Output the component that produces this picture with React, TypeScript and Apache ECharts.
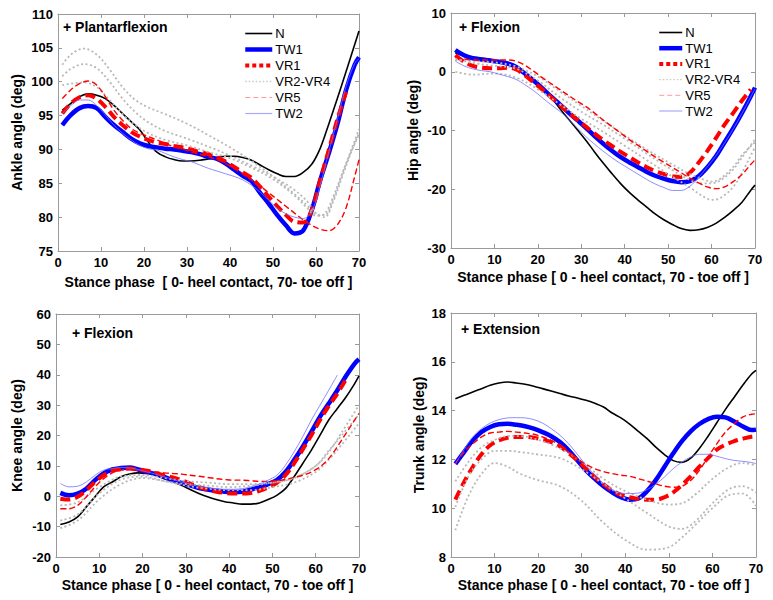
import React, { useEffect, useRef } from "react";
import * as echarts from "echarts";

// ---------- data ----------
const X_ODD = [1, 3, 5, 7, 9, 11, 13, 15, 17, 19, 21, 23, 25, 27, 29, 31, 33, 35, 37, 39, 41, 43, 45, 47, 49, 51, 53, 55, 57, 59, 61, 63, 65, 67, 69, 70];
const X_ANKLE_GRAY = [1, 3, 6, 9, 12, 15, 18, 21, 25, 30, 35, 40, 45, 50, 55, 58, 60, 62, 64, 66, 68, 70];
const X_HIP_GRAY = [1, 5, 10, 15, 20, 25, 30, 35, 40, 45, 50, 55, 58, 60, 62, 65, 67, 70];
const X_KNEE_GRAY = [1, 5, 10, 15, 20, 25, 30, 35, 40, 45, 50, 55, 60, 63, 66, 70];
const X_TRUNK_GRAY = [1, 4, 7, 10, 13, 16, 20, 25, 30, 35, 40, 45, 50, 53, 56, 60, 64, 67, 70];

const X_TICKS = [0, 10, 20, 30, 40, 50, 60, 70];
const LEGEND_NAMES = ["N", "TW1", "VR1", "VR2-VR4", "VR5", "TW2"];

// Ankle
const ANKLE_N = [95.8, 96.8, 97.8, 98.2, 98.0, 97.5, 96.5, 95.3, 94.1, 92.9, 91.1, 89.6, 88.9, 88.5, 88.3, 88.3, 88.4, 88.6, 88.8, 89.0, 89.0, 88.8, 88.4, 87.7, 87.0, 86.4, 86.0, 86.0, 86.6, 87.8, 90.2, 93.8, 97.6, 101.5, 105.5, 107.5];
const ANKLE_TW1 = [93.6, 95.1, 96.1, 96.4, 96.1, 94.8, 93.6, 92.6, 91.6, 90.9, 90.5, 90.3, 90.1, 90.0, 89.8, 89.6, 89.3, 88.9, 88.6, 87.9, 87.0, 86.1, 85.3, 83.6, 82.0, 80.3, 78.8, 77.6, 78.0, 81.0, 85.5, 89.5, 93.8, 98.8, 102.5, 103.6];
const ANKLE_VR1 = [95.3, 96.8, 97.7, 98.0, 97.5, 96.3, 94.8, 93.6, 92.6, 91.9, 91.4, 91.0, 90.8, 90.5, 90.3, 90.0, 89.6, 89.3, 88.8, 88.2, 87.4, 86.6, 85.8, 84.5, 83.0, 81.6, 80.3, 79.3, 79.2, 81.0, 85.5, 90.0, 94.5, 98.5, null, null];
const ANKLE_VR5 = [97.5, 98.8, 99.7, 100.1, 99.5, 97.8, 95.8, 94.3, 93.1, 92.4, 91.9, 91.4, 90.9, 90.4, 90.1, 89.6, 89.3, 88.9, 88.5, 87.9, 87.2, 86.4, 85.5, 84.6, 83.6, 82.6, 81.6, 80.6, 79.6, 78.8, 78.2, 78.0, 78.9, 81.4, 86.0, 88.5];
const ANKLE_TW2 = [95.3, 96.5, 97.3, 97.3, 96.5, 95.1, 93.6, 92.4, 91.4, 90.6, 90.1, 89.9, 89.4, 88.9, 88.5, 88.2, 87.7, 87.2, 86.8, 86.4, 86.0, 85.5, 84.7, 83.7, 82.5, 81.3, 80.5, 80.0, 79.8, 80.8, 84.8, 89.7, 94.5, 99.3, 102.7, 103.4];
const ANKLE_G1 = [102.5, 104.0, 104.9, 104.0, 101.8, 99.2, 97.3, 96.2, 95.2, 93.8, 92.1, 90.3, 88.3, 86.0, 83.4, 81.7, 80.4, 80.3, 82.6, 86.2, 89.6, 93.0];
const ANKLE_G2 = [100.8, 101.9, 102.6, 102.0, 100.0, 97.5, 95.5, 94.0, 92.7, 91.6, 90.4, 89.1, 87.6, 86.0, 84.0, 82.3, 80.6, 80.0, 82.3, 85.8, 89.3, 92.4];
const ANKLE_G3 = [99.5, 99.7, 99.9, 99.2, 97.3, 95.2, 93.6, 92.4, 91.4, 90.6, 89.6, 88.7, 87.3, 85.6, 83.2, 81.3, 80.2, 80.5, 83.0, 86.3, 89.4, 92.2];

// Hip
const HIP_N = [3.2, 2.7, 2.5, 2.3, 2.1, 1.8, 1.3, 0.6, -0.5, -1.6, -2.9, -4.3, -6.2, -8.0, -9.8, -11.6, -13.6, -15.5, -17.3, -19.0, -20.5, -21.8, -23.0, -24.2, -25.2, -26.0, -26.7, -27.0, -26.9, -26.5, -25.8, -24.8, -23.6, -22.2, -20.2, -19.3];
const HIP_TW1 = [3.7, 2.8, 2.3, 2.1, 1.9, 1.7, 1.4, 0.8, -0.3, -1.5, -2.8, -4.2, -5.5, -6.9, -8.2, -9.5, -10.9, -12.2, -13.4, -14.5, -15.4, -16.2, -17.0, -17.7, -18.2, -18.6, -18.8, -18.6, -17.8, -16.3, -14.4, -12.0, -9.6, -7.0, -4.2, -2.7];
const HIP_VR1 = [2.8, 1.7, 1.0, 0.7, 0.6, 0.6, 0.7, 0.4, -0.6, -1.8, -3.0, -4.3, -5.6, -6.9, -8.1, -9.3, -10.5, -11.6, -12.6, -13.6, -14.5, -15.4, -16.2, -16.9, -17.4, -17.8, -17.9, -17.2, -15.5, -13.5, -11.3, -9.0, -7.0, -4.9, -3.0, null];
const HIP_VR5 = [2.5, 2.2, 2.0, 2.0, 2.0, 2.0, 2.0, 1.8, 1.1, 0.1, -1.0, -2.0, -3.0, -4.0, -5.0, -5.9, -7.0, -8.2, -9.3, -10.4, -11.5, -12.5, -13.5, -14.5, -15.4, -16.3, -17.2, -18.1, -18.9, -19.6, -19.9, -19.6, -18.7, -17.5, -15.8, -15.0];
const HIP_TW2 = [1.8, 1.0, 0.5, 0.2, 0.0, -0.4, -0.8, -1.3, -2.2, -3.2, -4.4, -5.6, -6.7, -8.0, -9.5, -11.0, -12.3, -13.5, -14.6, -15.6, -16.5, -17.4, -18.3, -19.1, -19.7, -20.2, -20.2, -19.5, -18.0, -16.2, -14.3, -12.1, -9.7, -7.1, -4.3, -2.9];
const HIP_G1 = [0.0, -0.5, -0.3, -1.0, -3.0, -5.5, -8.0, -10.2, -12.6, -15.0, -17.4, -19.7, -21.2, -21.8, -21.5, -19.6, -17.2, -12.8];
const HIP_G2 = [2.2, 1.5, 1.0, 0.5, -1.5, -4.3, -6.8, -9.0, -11.4, -13.9, -16.3, -18.4, -19.0, -19.0, -18.5, -16.6, -14.6, -11.5];
const HIP_G3 = [2.0, 1.8, 1.6, 0.9, -0.8, -3.3, -5.8, -8.3, -10.8, -13.2, -15.4, -17.4, -18.3, -18.7, -18.2, -16.2, -14.2, -12.0];

// Knee
const KNEE_N = [-9.3, -8.5, -6.8, -3.5, -0.2, 3.1, 4.7, 6.4, 7.3, 7.7, 7.5, 6.9, 5.8, 4.7, 3.6, 2.2, 0.9, -0.2, -1.1, -1.8, -2.2, -2.6, -2.6, -2.2, -1.1, 0.3, 2.5, 6.4, 10.8, 15.2, 20.1, 25.1, 28.9, 32.7, 37.1, 39.6];
const KNEE_TW1 = [1.1, 0.3, 0.9, 2.5, 5.3, 7.5, 8.8, 9.3, 9.5, 8.8, 8.0, 7.3, 6.4, 5.3, 4.4, 3.6, 2.7, 2.2, 1.8, 1.5, 1.4, 1.5, 2.2, 2.9, 4.0, 5.3, 8.0, 11.9, 16.3, 21.2, 26.2, 30.5, 34.9, 39.6, 43.7, 45.1];
const KNEE_VR1 = [-0.8, -1.1, -0.2, 2.0, 4.7, 6.9, 8.4, 8.9, 9.1, 8.8, 8.4, 7.7, 6.9, 6.2, 5.3, 4.2, 3.1, 2.2, 1.5, 1.1, 0.9, 0.9, 1.1, 1.8, 2.9, 4.4, 6.9, 10.8, 15.4, 20.1, 25.1, 29.7, 33.8, 38.5, null, null];
const KNEE_VR5 = [-4.1, -4.1, -3.0, -0.2, 3.1, 5.8, 7.7, 8.6, 8.8, 8.6, 8.4, 8.0, 7.7, 7.5, 7.3, 6.9, 6.6, 6.2, 5.8, 5.5, 5.3, 5.3, 5.1, 4.9, 4.9, 5.1, 5.5, 6.2, 6.9, 8.0, 9.7, 12.4, 16.3, 20.7, 25.1, 27.3];
const KNEE_TW2 = [4.2, 3.1, 3.3, 4.7, 6.9, 8.6, 9.1, 9.5, 9.3, 8.8, 8.0, 7.3, 6.4, 5.5, 4.7, 4.0, 3.3, 2.9, 2.5, 2.3, 2.3, 2.5, 3.1, 4.0, 5.3, 6.9, 10.2, 14.6, 19.6, 25.1, 30.0, 34.9, 39.9, null, null, null];
const KNEE_G1 = [-10.5, -8.0, -1.0, 4.0, 6.0, 5.0, 3.5, 2.5, 2.0, 2.0, 3.0, 4.5, 8.0, 12.0, 17.0, 24.0];
const KNEE_G2 = [-8.0, -6.0, 1.0, 5.5, 6.5, 5.0, 4.0, 3.5, 3.0, 3.5, 4.5, 6.0, 10.0, 15.0, 20.0, 27.0];
const KNEE_G3 = [-3.0, -2.0, 3.0, 6.5, 7.0, 6.0, 5.0, 4.5, 4.0, 4.0, 4.5, 6.0, 10.0, 14.5, 21.0, 30.0];

// Trunk
const TRUNK_N = [14.49, 14.63, 14.76, 14.9, 15.04, 15.13, 15.17, 15.13, 15.08, 15.0, 14.9, 14.8, 14.7, 14.6, 14.52, 14.42, 14.3, 14.15, 13.9, 13.7, 13.45, 13.15, 12.85, 12.5, 12.2, 11.95, 11.88, 12.05, 12.45, 12.95, 13.5, 14.05, 14.55, 15.05, 15.5, 15.65];
const TRUNK_TW1 = [11.82, 12.3, 12.78, 13.12, 13.33, 13.44, 13.46, 13.42, 13.36, 13.26, 13.12, 12.95, 12.71, 12.37, 11.96, 11.55, 11.21, 10.9, 10.65, 10.45, 10.35, 10.4, 10.7, 11.15, 11.7, 12.25, 12.75, 13.15, 13.45, 13.65, 13.75, 13.72, 13.55, 13.35, 13.2, 13.22];
const TRUNK_VR1 = [10.35, 11.07, 11.69, 12.21, 12.58, 12.78, 12.89, 12.92, 12.92, 12.89, 12.81, 12.71, 12.54, 12.26, 11.96, 11.62, 11.28, 10.98, 10.73, 10.55, 10.45, 10.38, 10.35, 10.35, 10.45, 10.65, 10.95, 11.3, 11.7, 12.05, 12.4, 12.6, 12.75, 12.85, 12.93, 12.95];
const TRUNK_VR5 = [11.82, 12.3, 12.64, 12.92, 13.08, 13.12, 13.15, 13.12, 13.08, 13.03, 12.92, 12.78, 12.58, 12.3, 12.03, 11.8, 11.62, 11.5, 11.42, 11.35, 11.31, 11.21, 11.11, 11.0, 10.9, 10.86, 10.9, 11.14, 11.55, 12.1, 12.64, 13.12, 13.46, 13.74, 13.85, 13.87];
const TRUNK_TW2 = [11.82, 12.4, 12.92, 13.26, 13.49, 13.63, 13.7, 13.71, 13.7, 13.63, 13.49, 13.26, 12.99, 12.64, 12.21, 11.76, 11.35, 11.0, 10.76, 10.62, 10.6, 10.62, 10.76, 10.98, 11.28, 11.62, 11.89, 12.1, 12.21, 12.21, 12.13, 12.03, 11.96, 11.92, 11.87, 11.82];
const TRUNK_G1 = [11.1, 11.9, 12.5, 12.8, 12.95, 12.95, 12.8, 12.45, 11.9, 11.2, 10.7, 10.35, 10.15, 10.2, 10.55, 11.2, 11.7, 11.85, 11.75];
const TRUNK_G2 = [10.05, 11.3, 12.0, 12.35, 12.35, 12.3, 12.2, 12.05, 11.6, 11.0, 10.4, 9.8, 9.25, 9.15, 9.45, 10.2, 10.8, 10.9, 10.65];
const TRUNK_G3 = [9.1, 10.5, 11.4, 11.85, 11.7, 11.4, 11.15, 10.9, 10.3, 9.4, 8.7, 8.3, 8.4, 8.8, 9.3, 10.0, 10.55, 10.6, 10.1];

// ---------- presentation ----------
const FONT = "'Liberation Sans', Arial, Helvetica, sans-serif";
const AXIS_GRAY = "#9a9a9a";

const STYLE: Record<string, any> = {
  N: { color: "#000000", width: 1.6, type: "solid" },
  TW1: { color: "#0000ff", width: 4.5, type: "solid" },
  VR1: { color: "#ff0000", width: 4, type: [10, 5] },
  "VR2-VR4": { color: "#b8b8b8", width: 1.8, type: [2, 2.5] },
  VR5: { color: "#ff0000", width: 1.4, type: [6, 3] },
  TW2: { color: "#7070ff", width: 0.8, type: "solid" },
};

const LEGEND_STYLE: Record<string, any> = {
  N: { color: "#000000", width: 1.6, type: "solid" },
  TW1: { color: "#0000ff", width: 4.5, type: "solid" },
  VR1: { color: "#ff0000", width: 4, type: [4, 3] },
  "VR2-VR4": { color: "#c8c8c8", width: 1.4, type: [1.5, 2] },
  VR5: { color: "#ff9a9a", width: 1, type: [5, 3] },
  TW2: { color: "#a8a8ff", width: 1.2, type: "solid" },
};

const pairs = (xs: number[], ys: (number | null)[]) =>
  xs.map((x, i) => [x, ys[i]]).filter((p) => p[1] !== null && p[1] !== undefined);

const PANELS = [
  {
    grid: { left: 58, top: 14, width: 301, height: 237 },
    yMin: 75, yMax: 110, yInt: 5, yName: "Ankle angle (deg)", yGap: 34,
    xName: "Stance phase  [ 0- heel contact, 70- toe off ]", xGap: 24,
    note: "+ Plantarflexion", noteX: 63, noteY: 27,
    lines: { N: ANKLE_N, TW1: ANKLE_TW1, VR1: ANKLE_VR1, VR5: ANKLE_VR5, TW2: ANKLE_TW2 },
    grayX: X_ANKLE_GRAY, gray: [ANKLE_G1, ANKLE_G2, ANKLE_G3],
  },
  {
    grid: { left: 451, top: 13, width: 304, height: 235 },
    yMin: -30, yMax: 10, yInt: 10, yName: "Hip angle (deg)", yGap: 31,
    xName: "Stance phase [ 0 - heel contact, 70 - toe off ]", xGap: 22,
    note: "+ Flexion", noteX: 459, noteY: 27,
    lines: { N: HIP_N, TW1: HIP_TW1, VR1: HIP_VR1, VR5: HIP_VR5, TW2: HIP_TW2 },
    grayX: X_HIP_GRAY, gray: [HIP_G1, HIP_G2, HIP_G3],
  },
  {
    grid: { left: 56, top: 314, width: 303, height: 243 },
    yMin: -20, yMax: 60, yInt: 10, yName: "Knee angle (deg)", yGap: 32,
    xName: "Stance phase [ 0 - heel contact, 70 - toe off ]", xGap: 21,
    note: "+ Flexion", noteX: 72, noteY: 333,
    lines: { N: KNEE_N, TW1: KNEE_TW1, VR1: KNEE_VR1, VR5: KNEE_VR5, TW2: KNEE_TW2 },
    grayX: X_KNEE_GRAY, gray: [KNEE_G1, KNEE_G2, KNEE_G3],
  },
  {
    grid: { left: 451, top: 313, width: 305, height: 244 },
    yMin: 8, yMax: 18, yInt: 2, yName: "Trunk angle (deg)", yGap: 25,
    xName: "Stance phase [ 0 - heel contact, 70 - toe off ]", xGap: 21,
    note: "+ Extension", noteX: 461, noteY: 329,
    lines: { N: TRUNK_N, TW1: TRUNK_TW1, VR1: TRUNK_VR1, VR5: TRUNK_VR5, TW2: TRUNK_TW2 },
    grayX: X_TRUNK_GRAY, gray: [TRUNK_G1, TRUNK_G2, TRUNK_G3],
  },
];

function lineSeries(name: string, data: any[], gi: number, z: number) {
  const s = STYLE[name];
  return {
    type: "line",
    name,
    xAxisIndex: gi * 2,
    yAxisIndex: gi * 2,
    data,
    symbol: "none",
    smooth: 0.35,
    z,
    lineStyle: { color: s.color, width: s.width, type: s.type, cap: "butt" },
    itemStyle: { color: s.color },
    emphasis: { disabled: true },
  };
}

function buildOption() {
  const grid: any[] = [];
  const xAxis: any[] = [];
  const yAxis: any[] = [];
  const series: any[] = [];
  const graphic: any[] = [];

  PANELS.forEach((p, i) => {
    grid.push({ ...p.grid, containLabel: false });
    const tick = { show: true, inside: true, length: 4, lineStyle: { color: AXIS_GRAY, width: 1 } };
    const line = { show: true, onZero: false, lineStyle: { color: AXIS_GRAY, width: 1 } };
    xAxis.push({
      type: "value", gridIndex: i, position: "bottom", min: X_TICKS[0], max: X_TICKS[X_TICKS.length - 1], interval: 10,
      name: p.xName, nameLocation: "middle", nameGap: p.xGap,
      nameTextStyle: { color: "#000", fontWeight: "bold", fontSize: 14, fontFamily: FONT },
      axisLine: line, axisTick: tick, splitLine: { show: false },
      axisLabel: { color: "#000", fontWeight: "bold", fontSize: 13, fontFamily: FONT, margin: 5 },
    });
    xAxis.push({
      type: "value", gridIndex: i, position: "top", min: X_TICKS[0], max: X_TICKS[X_TICKS.length - 1], interval: 10,
      axisLine: line, axisTick: tick, splitLine: { show: false }, axisLabel: { show: false },
    });
    yAxis.push({
      type: "value", gridIndex: i, position: "left", min: p.yMin, max: p.yMax, interval: p.yInt,
      name: p.yName, nameLocation: "middle", nameGap: p.yGap,
      nameTextStyle: { color: "#000", fontWeight: "bold", fontSize: 14, fontFamily: FONT },
      axisLine: line, axisTick: tick, splitLine: { show: false },
      axisLabel: { color: "#000", fontWeight: "bold", fontSize: 13, fontFamily: FONT, margin: 5 },
    });
    yAxis.push({
      type: "value", gridIndex: i, position: "right", min: p.yMin, max: p.yMax, interval: p.yInt,
      axisLine: line, axisTick: tick, splitLine: { show: false }, axisLabel: { show: false },
    });

    const L: any = p.lines;
    series.push(lineSeries("N", pairs(X_ODD, L.N), i, 2));
    series.push(lineSeries("TW1", pairs(X_ODD, L.TW1), i, 3));
    series.push(lineSeries("VR1", pairs(X_ODD, L.VR1), i, 4));
    p.gray.forEach((g) => series.push(lineSeries("VR2-VR4", pairs(p.grayX, g), i, 5)));
    series.push(lineSeries("VR5", pairs(X_ODD, L.VR5), i, 6));
    series.push(lineSeries("TW2", pairs(X_ODD, L.TW2), i, 7));

    graphic.push({
      type: "text", x: p.noteX, y: p.noteY, z: 100,
      style: { text: p.note, fill: "#000", fontSize: 14, fontWeight: "bold", fontFamily: FONT, verticalAlign: "middle" },
    });
  });

  const legendData = LEGEND_NAMES.map((n) => ({
    name: n,
    itemStyle: { opacity: 0, color: "rgba(0,0,0,0)", borderWidth: 0 },
    lineStyle: { color: LEGEND_STYLE[n].color, width: LEGEND_STYLE[n].width, type: LEGEND_STYLE[n].type, opacity: 1 },
  }));

  const legend = [
    { left: 243, top: 27, itemWidth: 27, itemHeight: 14, itemGap: 3 },
    { left: 657, top: 26, itemWidth: 23, itemHeight: 14, itemGap: 2.7 },
  ].map((l) => ({
    ...l,
    orient: "vertical",
    padding: 0,
    selectedMode: false,
    backgroundColor: "transparent",
    itemStyle: { opacity: 0, borderWidth: 0 },
    textStyle: { color: "#000", fontSize: 13, fontFamily: FONT, padding: [0, 0, 0, -2] },
    data: legendData,
  }));

  return {
    animation: false,
    backgroundColor: "#ffffff",
    grid,
    xAxis,
    yAxis,
    series,
    legend,
    graphic,
  };
}

export default function App() {
  const ref = useRef<HTMLDivElement>(null);
  useEffect(() => {
    if (!ref.current) return;
    const chart = echarts.init(ref.current, undefined, { renderer: "svg" });
    chart.setOption(buildOption() as any);
    return () => chart.dispose();
  }, []);
  return (
    <div
      ref={ref}
      style={{ position: "absolute", left: 0, top: 0, width: 773, height: 600, background: "#fff" }}
    />
  );
}
